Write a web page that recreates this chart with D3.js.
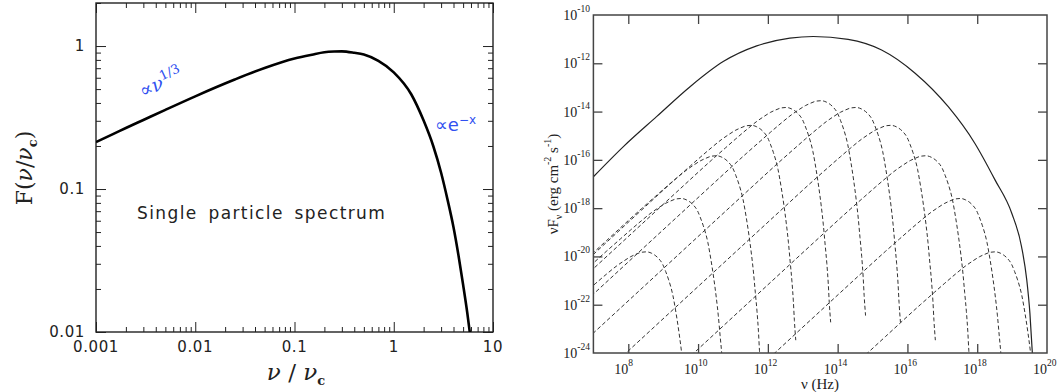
<!DOCTYPE html>
<html>
<head>
<meta charset="utf-8">
<title>Synchrotron spectra</title>
<script src="https://d3js.org/d3.v7.min.js"></script>
<style>
  body { margin: 0; background: #fff; }
  svg { display: block; }
  .num { font-family: "DejaVu Sans", sans-serif; font-size: 15px; fill: #222; letter-spacing: 0.6px; }
  .tnum { font-family: "Liberation Serif", "Times New Roman", serif; font-size: 14px; fill: #222; }
  .tsup { font-family: "Liberation Serif", "Times New Roman", serif; font-size: 9.5px; fill: #222; }
</style>
</head>
<body>
<script>

// Left panel: single particle spectrum F(nu/nu_c)
var ratio   = [0.001, 0.0015, 0.002, 0.003, 0.005, 0.01, 0.025, 0.05, 0.1, 0.15, 0.2, 0.25, 0.3, 0.4, 0.5, 0.7, 1, 1.5, 2, 2.5, 3, 3.5, 4, 4.5, 5, 5.5, 6];
var singleF = [0.213, 0.243, 0.267, 0.304, 0.358, 0.445, 0.583, 0.702, 0.818, 0.87, 0.904, 0.915, 0.918, 0.897, 0.871, 0.787, 0.655, 0.46, 0.301, 0.2, 0.13, 0.083, 0.054, 0.034, 0.0214, 0.0137, 0.0086];
var leftXTicks = [0.001, 0.01, 0.1, 1, 10];
var leftXLabels = ['0.001', '0.01', '0.1', '1', '10'];
var leftYTicks = [0.01, 0.1, 1];
var leftYLabels = ['0.01', '0.1', '1'];

// Right panel: nuF_nu, log10 values
// shape of one dashed component, as offsets from its peak (decades)
var shapeDx = [-10.15, -4.15, -3.15, -2.15, -1.75, -1.45, -1.15, -0.85, -0.67, -0.45, -0.3, -0.15, 0, 0.15, 0.33, 0.46, 0.55, 0.63, 0.76, 0.85, 0.93, 1.0, 1.06, 1.11, 1.16, 1.2, 1.23, 1.27];
var shapeDy = [-12.84, -4.84, -3.51, -2.19, -1.68, -1.3, -0.93, -0.58, -0.4, -0.2, -0.1, -0.02, 0, -0.06, -0.25, -0.5, -0.81, -1.13, -1.82, -2.55, -3.31, -4.08, -4.86, -5.66, -6.46, -7.27, -8.08, -8.9];
// peak of each dashed component
var peakLogNu   = [8.52, 9.52, 10.53, 11.53, 12.53, 13.53, 14.53, 15.53, 16.53, 17.52, 18.52];
var peakLogFlux = [-19.81, -17.6, -15.83, -14.57, -13.83, -13.55, -13.83, -14.57, -15.83, -17.6, -19.81];
// total (solid) spectrum
var totalLogNu   = [7.0, 7.86, 8.81, 9.77, 10.72, 11.68, 12.63, 13.3, 14.3, 15.26, 16.22, 17.17, 17.93, 18.51, 18.99, 19.27, 19.42, 19.51, 19.58];
var totalLogFlux = [-16.7, -15.45, -14.21, -12.97, -11.93, -11.28, -10.96, -10.89, -11.01, -11.45, -12.41, -13.8, -15.31, -16.83, -18.21, -19.59, -20.97, -22.35, -24.0];
var rightXTicks = [8, 10, 12, 14, 16, 18, 20];
var rightYTicks = [-10, -12, -14, -16, -18, -20, -22, -24];

var svg = d3.select('body').append('svg')
    .attr('width', 1057)
    .attr('height', 392);

// draw inward ticks on all four sides of a frame
function frameTicks(g, xs, ys, xv, yv, len, color, width) {
    var x0 = xs.range()[0], x1 = xs.range()[1];
    var y0 = ys.range()[0], y1 = ys.range()[1];
    [[d3.axisBottom, y0], [d3.axisTop, y1]].forEach(function(a) {
        g.append('g')
         .attr('transform', 'translate(0,' + a[1] + ')')
         .call(a[0](xs).tickValues(xv).tickSize(-len).tickFormat(''))
         .call(function(s) { s.select('.domain').remove(); })
         .selectAll('line').attr('stroke', color).attr('stroke-width', width);
    });
    [[d3.axisLeft, x0], [d3.axisRight, x1]].forEach(function(a) {
        g.append('g')
         .attr('transform', 'translate(' + a[1] + ',0)')
         .call(a[0](ys).tickValues(yv).tickSize(-len).tickFormat(''))
         .call(function(s) { s.select('.domain').remove(); })
         .selectAll('line').attr('stroke', color).attr('stroke-width', width);
    });
}

// ---------------- left panel ----------------
var xL = d3.scaleLog().domain([0.001, 10]).range([96, 493]);
var yL = d3.scaleLog().domain([0.01, 2]).range([332, 3]);

var left = svg.append('g');

left.append('clipPath').attr('id', 'clipL')
    .append('rect')
    .attr('x', 96).attr('y', 3).attr('width', 397).attr('height', 329);

var isMajor = function(v) { return Math.abs(Math.log10(v) - Math.round(Math.log10(v))) < 1e-6; };
frameTicks(left, xL, yL,
    xL.ticks().filter(function(v) { return !isMajor(v); }),
    yL.ticks().filter(function(v) { return !isMajor(v); }), 5, '#222', 1);
frameTicks(left, xL, yL, leftXTicks, leftYTicks, 10, '#222', 1);

left.append('rect')
    .attr('x', 96).attr('y', 3).attr('width', 397).attr('height', 329)
    .attr('fill', 'none').attr('stroke', '#222').attr('stroke-width', 1.4);

left.append('path')
    .datum(ratio.map(function(r, i) { return [r, singleF[i]]; }))
    .attr('clip-path', 'url(#clipL)')
    .attr('fill', 'none')
    .attr('stroke', '#000')
    .attr('stroke-width', 2.6)
    .attr('d', d3.line()
        .x(function(d) { return xL(d[0]); })
        .y(function(d) { return yL(d[1]); })
        .curve(d3.curveMonotoneX));

left.selectAll('.xl').data(leftXTicks).enter().append('text')
    .attr('class', 'num')
    .attr('x', function(d) { return xL(d); })
    .attr('y', 352)
    .attr('text-anchor', 'middle')
    .text(function(d, i) { return leftXLabels[i]; });

left.selectAll('.yl').data(leftYTicks).enter().append('text')
    .attr('class', 'num')
    .attr('x', 85)
    .attr('y', function(d) { return yL(d) + 5; })
    .attr('text-anchor', 'end')
    .text(function(d, i) { return leftYLabels[i]; });

// x title
var xt = left.append('text')
    .attr('x', 296).attr('y', 380)
    .attr('text-anchor', 'middle')
    .style('font-family', '"DejaVu Serif", serif')
    .style('font-size', '23px')
    .style('fill', '#222');
xt.append('tspan').style('font-style', 'italic').text('ν');
xt.append('tspan').text(' / ');
xt.append('tspan').style('font-style', 'italic').text('ν');
xt.append('tspan').attr('dy', 5).style('font-size', '13px').style('font-weight', 'bold').text('c');

// y title
var yt = left.append('text')
    .attr('transform', 'translate(32,168) rotate(-90)')
    .attr('text-anchor', 'middle')
    .style('font-family', '"DejaVu Serif", serif')
    .style('font-size', '22px')
    .style('fill', '#222');
yt.append('tspan').text('F(');
yt.append('tspan').style('font-style', 'italic').text('ν');
yt.append('tspan').text('/');
yt.append('tspan').style('font-style', 'italic').text('ν');
yt.append('tspan').attr('dy', 5).style('font-size', '13px').style('font-weight', 'bold').text('c');
yt.append('tspan').attr('dy', -5).text(')');

left.append('text')
    .attr('x', 137).attr('y', 219)
    .style('font-family', '"DejaVu Sans", sans-serif')
    .style('font-size', '17px')
    .style('letter-spacing', '1.4px')
    .style('word-spacing', '4px')
    .style('fill', '#222')
    .text('Single particle spectrum');

// blue annotations
var a1 = left.append('text')
    .attr('transform', 'translate(143,98) rotate(-25)')
    .style('font-family', '"DejaVu Serif", serif')
    .style('font-size', '19px')
    .style('fill', '#3050f0');
a1.append('tspan').text('∝');
a1.append('tspan').style('font-style', 'italic').text('ν');
a1.append('tspan').attr('dy', -8).style('font-size', '13px').text('1/3');

var a2 = left.append('text')
    .attr('x', 435).attr('y', 131)
    .style('font-family', '"DejaVu Sans", sans-serif')
    .style('font-size', '18px')
    .style('fill', '#3050f0');
a2.append('tspan').text('∝e');
a2.append('tspan').attr('dy', -7).style('font-size', '12px').text('−x');

// ---------------- right panel ----------------
var xR = d3.scaleLinear().domain([7, 20]).range([593.4, 1047]);
var yR = d3.scaleLinear().domain([-24, -10]).range([353, 15]);

var right = svg.append('g');

right.append('clipPath').attr('id', 'clipR')
    .append('rect')
    .attr('x', 593.4).attr('y', 15).attr('width', 453.6).attr('height', 338);

frameTicks(right, xR, yR, rightXTicks.slice(0, 6), rightYTicks.slice(1, 7), 9, '#444', 1.3);

var lineR = d3.line()
    .x(function(d) { return xR(d[0]); })
    .y(function(d) { return yR(d[1]); })
    .curve(d3.curveMonotoneX);

var comps = peakLogNu.map(function(p, i) {
    return shapeDx.map(function(dx, j) { return [p + dx, peakLogFlux[i] + shapeDy[j]]; });
});

right.append('g').attr('clip-path', 'url(#clipR)')
    .selectAll('path.comp').data(comps).enter().append('path')
    .attr('class', 'comp')
    .attr('fill', 'none')
    .attr('stroke', '#333')
    .attr('stroke-width', 1)
    .attr('stroke-dasharray', '4,2.5')
    .attr('d', lineR);

right.append('path')
    .datum(totalLogNu.map(function(v, i) { return [v, totalLogFlux[i]]; }))
    .attr('clip-path', 'url(#clipR)')
    .attr('fill', 'none')
    .attr('stroke', '#222')
    .attr('stroke-width', 1.2)
    .attr('d', lineR);

right.append('rect')
    .attr('x', 593.4).attr('y', 15).attr('width', 453.6).attr('height', 338)
    .attr('fill', 'none').attr('stroke', '#444').attr('stroke-width', 1.5);

// x tick labels: "10" ends at the tick, exponent starts there
var xlab = right.selectAll('.xr').data(rightXTicks).enter().append('g');
xlab.append('text').attr('class', 'tnum')
    .attr('x', function(d) { return xR(d); })
    .attr('y', 374)
    .attr('text-anchor', 'end')
    .text('10');
xlab.append('text').attr('class', 'tsup')
    .attr('x', function(d) { return xR(d); })
    .attr('y', 366)
    .text(function(d) { return d; });

// y tick labels
var ylab = right.selectAll('.yr').data(rightYTicks).enter().append('text')
    .attr('class', 'tnum')
    .attr('x', 590)
    .attr('y', function(d) { return yR(d) + 5; })
    .attr('text-anchor', 'end');
ylab.append('tspan').text('10');
ylab.append('tspan').attr('class', 'tsup').attr('dy', -8).text(function(d) { return d; });

// axis titles
right.append('text')
    .attr('x', 820).attr('y', 389)
    .attr('text-anchor', 'middle')
    .style('font-family', '"Liberation Serif", serif')
    .style('font-size', '15px')
    .style('fill', '#222')
    .text('ν (Hz)');

var yr = right.append('text')
    .attr('transform', 'translate(558,184) rotate(-90)')
    .attr('text-anchor', 'middle')
    .style('font-family', '"Liberation Serif", serif')
    .style('font-size', '15px')
    .style('fill', '#222');
yr.append('tspan').text('νF');
yr.append('tspan').attr('dy', 4).style('font-size', '10px').text('ν');
yr.append('tspan').attr('dy', -4).text(' (erg cm');
yr.append('tspan').attr('dy', -7).style('font-size', '10px').text('-2');
yr.append('tspan').attr('dy', 7).text(' s');
yr.append('tspan').attr('dy', -7).style('font-size', '10px').text('-1');
yr.append('tspan').attr('dy', 7).text(')');

</script>
</body>
</html>
